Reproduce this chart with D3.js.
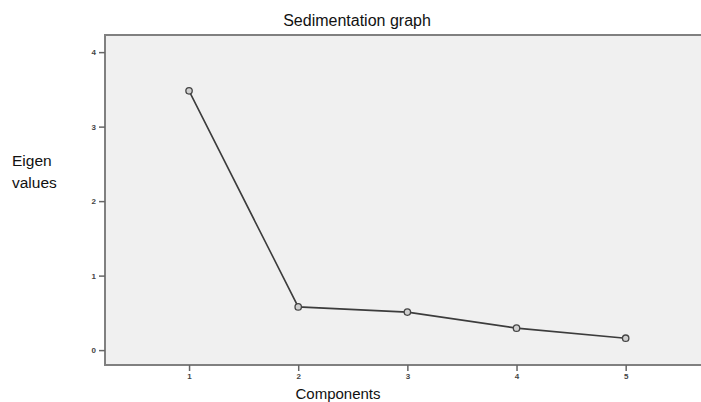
<!DOCTYPE html>
<html>
<head>
<meta charset="utf-8">
<script src="https://cdn.jsdelivr.net/npm/d3@7"></script>
<style>
  body { margin: 0; background: #fff; }
  text { font-family: Arial, "Liberation Sans", sans-serif; }
</style>
</head>
<body>
<div id="chart"></div>
<script>
// scree plot values
var components = [1, 2, 3, 4, 5];
var eigenValues = [3.48, 0.58, 0.51, 0.295, 0.16];
var yTicks = [0, 1, 2, 3, 4];

var W = 701, H = 402;
var margin = { top: 35, right: 0, bottom: 37, left: 105 };

var svg = d3
  .select("#chart")
  .append("svg")
  .attr("width", W)
  .attr("height", H);

var x = d3.scaleLinear().domain([0.23, 5.69]).range([margin.left, W - margin.right]);
var y = d3.scaleLinear().domain([-0.2, 4.23]).range([H - margin.bottom, margin.top]);

// plot background
svg
  .append("rect")
  .attr("x", margin.left)
  .attr("y", margin.top)
  .attr("width", W - margin.right - margin.left)
  .attr("height", H - margin.bottom - margin.top)
  .attr("fill", "#f0f0f0");

// frame: top, left, bottom
svg
  .append("path")
  .attr("d", "M" + (W - margin.right) + "," + margin.top + "H" + margin.left + "V" + (H - margin.bottom) + "H" + (W - margin.right))
  .attr("fill", "none")
  .attr("stroke", "#808080")
  .attr("stroke-width", 2);

// y axis
var yAxis = d3.axisLeft(y).tickValues(yTicks).tickSize(6).tickPadding(3).tickFormat(d3.format("d"));
var gy = svg.append("g").attr("transform", "translate(" + margin.left + ",0)").call(yAxis);
gy.select(".domain").remove();
gy.selectAll("line").attr("stroke", "#666").attr("stroke-width", 1.5);
gy.selectAll("text").attr("font-size", 8).attr("font-weight", "bold").attr("fill", "#444");

// x axis
var xAxis = d3.axisBottom(x).tickValues(components).tickSize(6).tickPadding(2).tickFormat(d3.format("d"));
var gx = svg.append("g").attr("transform", "translate(0," + (H - margin.bottom) + ")").call(xAxis);
gx.select(".domain").remove();
gx.selectAll("line").attr("stroke", "#666").attr("stroke-width", 1.5);
gx.selectAll("text").attr("font-size", 8).attr("font-weight", "bold").attr("fill", "#444");

// line
var line = d3
  .line()
  .x(function (d, i) { return x(components[i]); })
  .y(function (d) { return y(d); });

svg
  .append("path")
  .datum(eigenValues)
  .attr("d", line)
  .attr("fill", "none")
  .attr("stroke", "#3c3c3c")
  .attr("stroke-width", 1.6);

svg
  .selectAll(".pt")
  .data(eigenValues)
  .enter()
  .append("circle")
  .attr("class", "pt")
  .attr("cx", function (d, i) { return x(components[i]); })
  .attr("cy", function (d) { return y(d); })
  .attr("r", 3.2)
  .attr("fill", "#d0d0d0")
  .attr("stroke", "#444")
  .attr("stroke-width", 1.3);

// titles
svg
  .append("text")
  .attr("x", 357)
  .attr("y", 26)
  .attr("text-anchor", "middle")
  .attr("font-size", 16)
  .attr("fill", "#111")
  .text("Sedimentation graph");

svg
  .append("text")
  .attr("x", 338)
  .attr("y", 399)
  .attr("text-anchor", "middle")
  .attr("font-size", 15)
  .attr("fill", "#111")
  .text("Components");

svg
  .append("text")
  .attr("x", 12)
  .attr("y", 166)
  .attr("font-size", 15.5)
  .attr("fill", "#111")
  .text("Eigen");

svg
  .append("text")
  .attr("x", 12)
  .attr("y", 188)
  .attr("font-size", 15.5)
  .attr("fill", "#111")
  .text("values");
</script>
</body>
</html>
